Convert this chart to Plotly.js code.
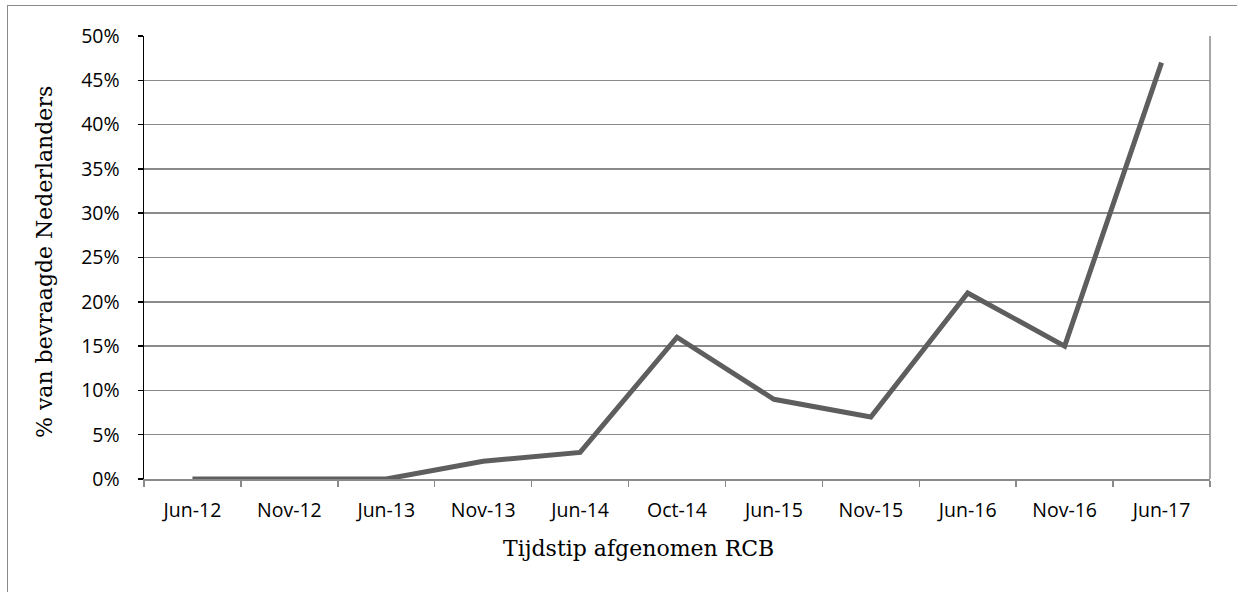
<!DOCTYPE html>
<html>
<head>
<meta charset="utf-8">
<script src="https://cdn.plot.ly/plotly-3.0.1.min.js"></script>
<style>
  html, body { margin: 0; padding: 0; background: #fff; }
  #wrap { position: relative; width: 1237px; height: 592px; overflow: hidden; }
  #frame { position: absolute; left: 7px; top: 5px; width: 1300px; height: 700px;
           border-left: 1.5px solid #8a8a8a; border-top: 1.5px solid #8a8a8a; pointer-events: none; }
  #chart { position: absolute; left: 0; top: 0; width: 1237px; height: 592px; }
</style>
</head>
<body>
<div id="wrap">
  <div id="chart"></div>
  <div id="frame"></div>
</div>
<script>
const categories = ["Jun-12","Nov-12","Jun-13","Nov-13","Jun-14","Oct-14","Jun-15","Nov-15","Jun-16","Nov-16","Jun-17"];
const percentages = [0, 0, 0, 2, 3, 16, 9, 7, 21, 15, 47];
const yTickValues = [0, 5, 10, 15, 20, 25, 30, 35, 40, 45, 50];
const yTickLabels = ["0%","5%","10%","15%","20%","25%","30%","35%","40%","45%","50%"];
const xTitle = "Tijdstip afgenomen RCB";
const yTitle = "% van bevraagde Nederlanders";

const tickFont = { family: "'Open Sans', 'Noto Sans', sans-serif", size: 19.5, color: "#000" };
const titleFont = { family: "'DejaVu Serif', 'Liberation Serif', serif", size: 22, color: "#000" };

const trace = {
  x: categories,
  y: percentages,
  type: "scatter",
  mode: "lines",
  line: { color: "#5e5e5e", width: 5 },
  hoverinfo: "skip"
};

const layout = {
  width: 1237,
  height: 592,
  margin: { l: 144, r: 27, t: 36, b: 113 },
  paper_bgcolor: "rgba(0,0,0,0)",
  plot_bgcolor: "#ffffff",
  showlegend: false,
  font: tickFont,
  xaxis: {
    type: "category",
    categoryorder: "array",
    categoryarray: categories,
    range: [-0.5, categories.length - 0.5],
    tickson: "boundaries",
    ticks: "outside",
    ticklen: 6,
    tickwidth: 1.5,
    tickcolor: "#8a8a8a",
    showline: true,
    linecolor: "#8a8a8a",
    linewidth: 1.5,
    showgrid: false,
    zeroline: false,
    tickfont: tickFont,
    ticklabelstandoff: 13
  },
  yaxis: {
    range: [0, 50],
    tickmode: "array",
    tickvals: yTickValues,
    ticktext: yTickLabels,
    ticks: "outside",
    ticklen: 5,
    tickwidth: 1.5,
    tickcolor: "#000",
    showline: true,
    linecolor: "#000",
    linewidth: 1.5,
    showgrid: true,
    gridcolor: "#8a8a8a",
    gridwidth: 1.5,
    zeroline: false,
    tickfont: tickFont,
    ticklabelstandoff: 14
  },
  annotations: [
    { text: xTitle, xref: "paper", yref: "paper", x: (638 - 144) / 1066, y: -(548 - 479) / 443,
      xanchor: "center", yanchor: "middle", showarrow: false, font: titleFont },
    { text: yTitle, xref: "paper", yref: "paper", x: -(144 - 44) / 1066, y: (479 - 262) / 443,
      xanchor: "center", yanchor: "middle", showarrow: false, textangle: -90, font: titleFont }
  ],
  shapes: [
    { type: "line", xref: "paper", yref: "paper", x0: 1, x1: 1, y0: 0, y1: 1,
      line: { color: "#8a8a8a", width: 1.5 }, layer: "below" }
  ]
};

Plotly.newPlot("chart", [trace], layout, { staticPlot: true, displayModeBar: false });
</script>
</body>
</html>
